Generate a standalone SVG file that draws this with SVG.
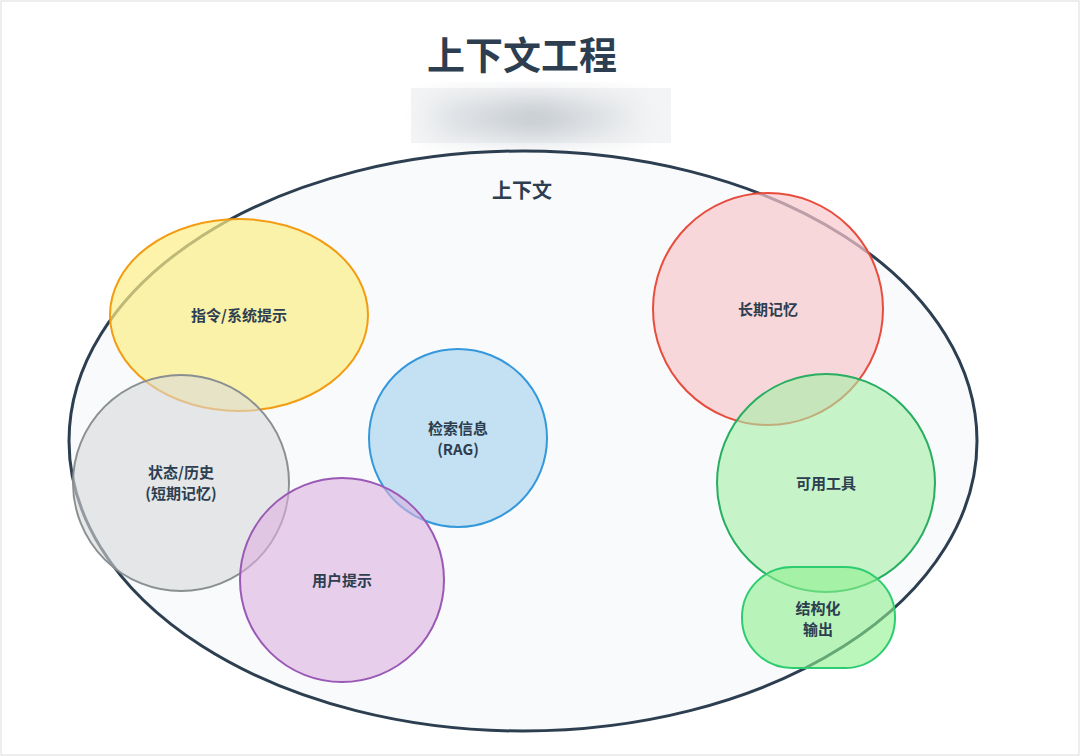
<svg xmlns="http://www.w3.org/2000/svg" width="1080" height="756" viewBox="0 0 1080 756">
<style>
text{font-family:"Noto Sans CJK SC","Liberation Sans",sans-serif;font-weight:bold;fill:#2c3e50;text-anchor:middle}
.lbl{font-size:15px}
.n{stroke-width:2}
</style>
<defs><filter id="b" x="-20%" y="-50%" width="140%" height="200%"><feGaussianBlur stdDeviation="14"/></filter>
<linearGradient id="g" x1="0" x2="1"><stop offset="0" stop-color="#e4e7ea"/><stop offset="0.5" stop-color="#bfc5cb"/><stop offset="1" stop-color="#eceef0"/></linearGradient></defs>
<rect x="0" y="0" width="1080" height="756" fill="#fff"/>
<rect x="1" y="1" width="1078" height="754" fill="none" stroke="#ddd"/>
<rect x="411" y="88" width="260" height="55" fill="#f3f4f5"/>
<text x="522" y="69" font-size="38">上下文工程</text>
<rect x="430" y="100" width="210" height="36" fill="url(#g)" filter="url(#b)"/>
<g id="context"><ellipse cx="523" cy="441" rx="454" ry="290" fill="#f8fafc" stroke="#2c3e50" stroke-width="3"/>
<text x="522" y="198" font-size="20">上下文</text></g>
<g id="connectors"></g>
<g id="instr"><ellipse class="n" cx="239" cy="315" rx="129" ry="96" fill="#fcee88" fill-opacity="0.7" stroke="#f39c12"/><text class="lbl" x="239" y="321">指令/系统提示</text></g>
<g id="state"><circle class="n" cx="181" cy="483" r="108" fill="#d9d9d9" fill-opacity="0.6" stroke="#8a8f91"/><text class="lbl" x="181" y="478">状态/历史</text><text class="lbl" x="181" y="499">(短期记忆)</text></g>
<g id="rag"><circle class="n" cx="458" cy="438" r="89" fill="#aed6f1" fill-opacity="0.7" stroke="#3498db"/><text class="lbl" x="458" y="434">检索信息</text><text class="lbl" x="458" y="455">(RAG)</text></g>
<g id="user"><circle class="n" cx="342" cy="580" r="102" fill="#dcb0e0" fill-opacity="0.6" stroke="#9b59b6"/><text class="lbl" x="342" y="586">用户提示</text></g>
<g id="ltm"><ellipse class="n" cx="768" cy="309" rx="115" ry="116" fill="#f8c8cc" fill-opacity="0.7" stroke="#e74c3c"/><text class="lbl" x="768" y="315">长期记忆</text></g>
<g id="tools"><circle class="n" cx="826" cy="483" r="109" fill="#a6eea6" fill-opacity="0.6" stroke="#27ae60"/><text class="lbl" x="826" y="489">可用工具</text></g>
<g id="out"><rect class="n" x="742" y="567" width="153" height="101" rx="50" fill="#8ef08e" fill-opacity="0.6" stroke="#2ecc71"/><text class="lbl" x="818" y="614">结构化</text><text class="lbl" x="818" y="635">输出</text></g>
</svg>
